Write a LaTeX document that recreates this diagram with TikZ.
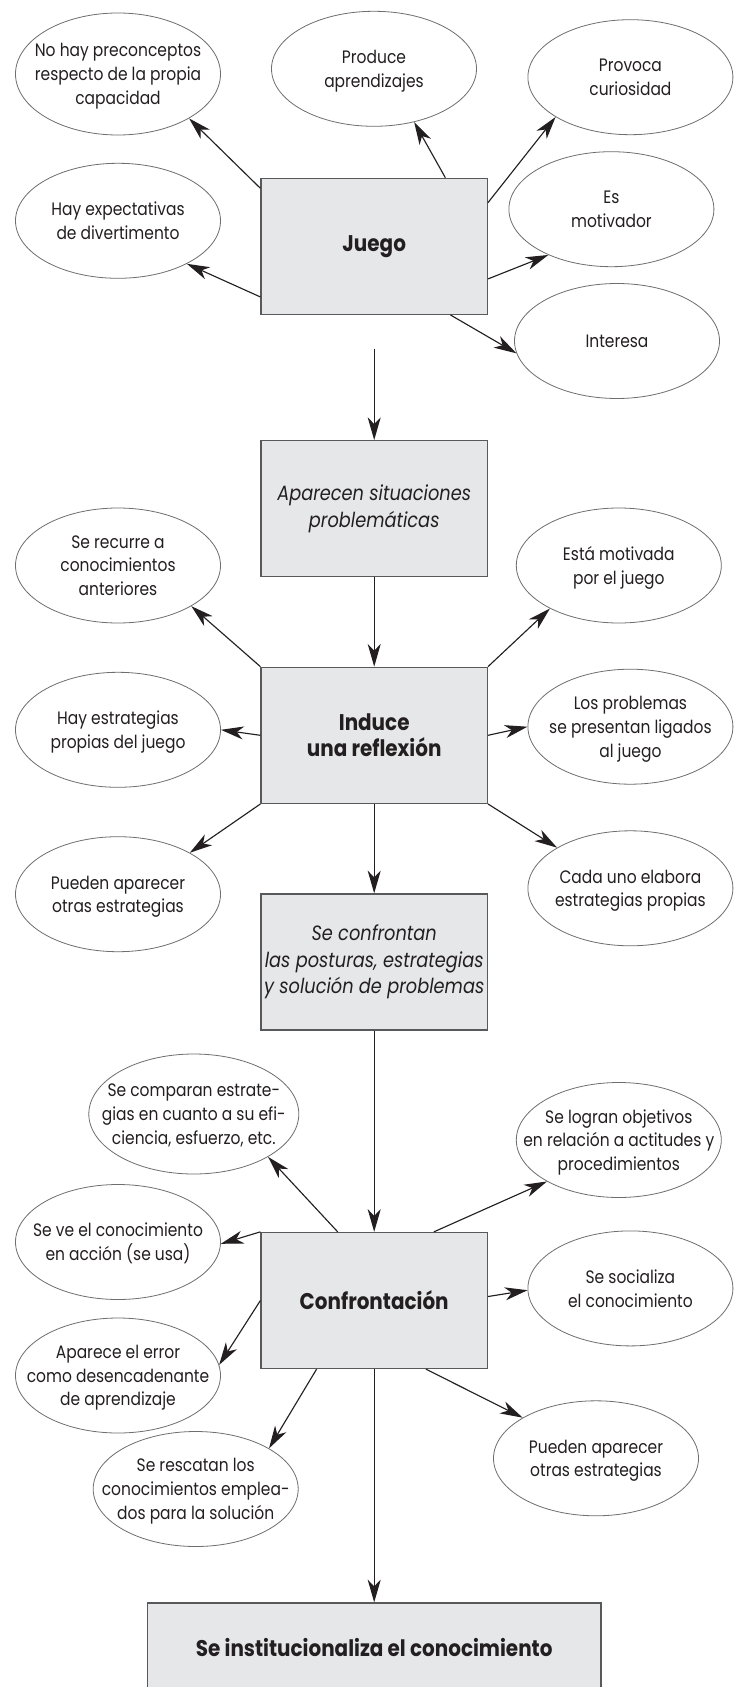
\documentclass[tikz,border=0pt]{standalone}
\usepackage{fontspec}
\setmainfont{Poppins}[FakeStretch=0.86, BoldFeatures={FakeStretch=0.88}]
\usetikzlibrary{shapes.geometric,arrows.meta}

\definecolor{boxfill}{HTML}{E6E7E8}
\definecolor{boxline}{HTML}{58595B}
\definecolor{ellline}{HTML}{6D6E71}
\definecolor{ink}{HTML}{231F20}

\newcommand\bubblefont{\fontsize{13.5pt}{17.8pt}\selectfont}
\newcommand\stagefont{\fontsize{15.5pt}{20pt}\selectfont}
\newcommand\stageboldfont{\fontsize{17pt}{20pt}\selectfont\bfseries}

\tikzset{
  bubble/.style={ellipse, draw=ellline, line width=0.6pt, fill=white,
    minimum width=153.75pt, minimum height=86.25pt,
    inner xsep=-20pt, inner ysep=0pt, text depth=-8pt,
    align=center, text=ink, font=\bubblefont},
  stage/.style={rectangle, draw=boxline, line width=1pt, fill=boxfill,
    minimum width=169.7pt, minimum height=102pt, inner sep=0pt,
    align=center, text=ink},
  stagei/.style={stage, font=\stagefont\itshape},
  stageb/.style={stage, font=\stageboldfont},
  link/.style={draw=ink, line width=0.85pt,
    -{Stealth[length=17pt,width=9.75pt,inset=5pt]}},
}

\begin{document}
\begin{tikzpicture}[x=0.75pt,y=-0.75pt]
\fill[white] (0,0) rectangle (744,1687);
\clip (0,0) rectangle (744,1687);

% --- Juego
\node[bubble, minimum height=91.5pt, text depth=-16pt] (nohay) at (118,74) {No hay preconceptos\\respecto de la propia\\capacidad};
\node[bubble] (produce) at (374,68.8) {Produce\\aprendizajes};
\node[bubble] (provoca) at (630.4,77.2) {Provoca\\curiosidad};
\node[bubble] (hayexp) at (118,220.8) {Hay expectativas\\de divertimento};
\node[bubble] (motivador) at (611.4,209.2) {Es\\motivador};
\node[bubble] (interesa) at (617,341) {Interesa};
\node[stageb] (juego) at (374.2,246.3) {Juego};

% --- situaciones problemáticas y reflexión
\node[stagei] (aparecen) at (374.2,508.7) {Aparecen situaciones\\problemáticas};
\node[bubble] (serecurre) at (118,565.5) {Se recurre a\\conocimientos\\anteriores};
\node[bubble] (motivada) at (618.8,565.5) {Está motivada\\por el juego};
\node[stageb] (induce) at (374.2,735.3) {Induce\\una reflexión};
\node[bubble] (hayestr) at (118,729.8) {Hay estrategias\\propias del juego};
\node[bubble] (problemas) at (630.4,726.7) {Los problemas\\se presentan ligados\\al juego};
\node[bubble] (pueden1) at (118,894.2) {Pueden aparecer\\otras estrategias};
\node[bubble] (cadauno) at (630.4,888.3) {Cada uno elabora\\estrategias propias};
\node[stagei] (confrontan) at (374.2,962) {Se confrontan\\las posturas, estrategias\\y solución de problemas};

% --- Confrontación
\node[bubble, minimum width=157.5pt, minimum height=90pt] (comparan) at (193.8,1114) {Se comparan estrate-\\gias en cuanto a su efi-\\ciencia, esfuerzo, etc.};
\node[bubble] (logran) at (618.8,1140) {Se logran objetivos\\en relación a actitudes y\\procedimientos};
\node[bubble] (seve) at (118,1242) {Se ve el conocimiento\\en acción (se usa)};
\node[bubble] (socializa) at (630.4,1288.4) {Se socializa\\el conocimiento};
\node[stageb] (confront) at (374.2,1300.5) {Confrontación};
\node[bubble] (error) at (118,1375.5) {Aparece el error\\como desencadenante\\de aprendizaje};
\node[bubble] (rescatan) at (195.7,1489) {Se rescatan los\\conocimientos emplea-\\dos para la solución};
\node[bubble] (pueden2) at (596,1458.3) {Pueden aparecer\\otras estrategias};
\node[stageb, minimum width=340pt, minimum height=66pt] (final) at (374.2,1647) {Se institucionaliza el conocimiento};

% --- connectors
\draw[link] (juego.153.8) -- (nohay.-32.9);
\draw[link] (juego.44.4) -- (produce.-53.2);
\draw[link] (juego.21.8) -- (provoca.-152.8);
\draw[link] (juego.204.8) -- (hayexp.-32.5);
\draw[link] (juego.-16.1) -- (motivador.-144.5);
\draw[link] (juego.-42.7) -- (interesa.187.3);
\draw[link, shorten <=25.5pt] (juego.south) -- (aparecen.north);
\draw[link] (aparecen.south) -- (induce.north);

\draw[link] (induce.north west) -- (serecurre.-29.4);
\draw[link] (induce.north east) -- (motivada.-148.7);
\draw[link] (induce.180.4) -- (hayestr.0.8);
\draw[link] (induce.east) -- (problemas.180.9);
\draw[link] (induce.south west) -- (pueden1.30);
\draw[link] (induce.south east) -- (cadauno.151);
\draw[link] (induce.south) -- (confrontan.north);
\draw[link] (confrontan.south) -- (confront.north);

\draw[link] (confront.118.8) -- (comparan.-30.2);
\draw[link] (confront.49.2) -- (logran.-150.9);
\draw[link] (confront.north west) -- (seve.-1.6);
\draw[link] (confront.2.8) -- (socializa.181.8);
\draw[link] (confront.west) -- (error.6.9);
\draw[link] (confront.-130.2) -- (rescatan.29.5);
\draw[link] (confront.-53.9) -- (pueden2.151.6);
\draw[link] (confront.south) -- (final.north);
\end{tikzpicture}
\end{document}
